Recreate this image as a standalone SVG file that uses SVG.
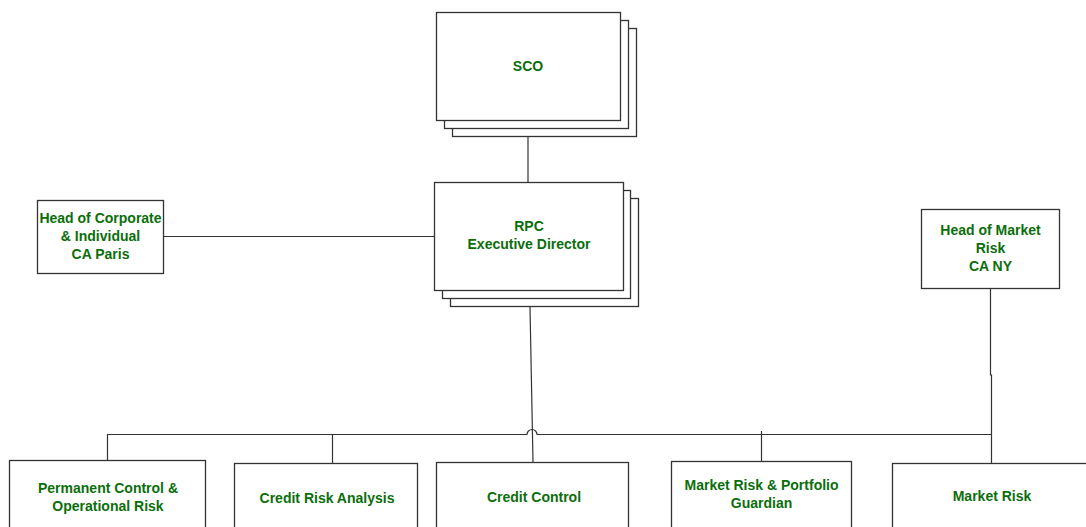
<svg xmlns="http://www.w3.org/2000/svg" width="1086" height="527" viewBox="0 0 1086 527">
<style>
.box{fill:#fff;stroke:#333;stroke-width:1.3}
.ln{fill:none;stroke:#333;stroke-width:1.2}
text{font-family:"Liberation Sans",Arial,sans-serif;font-weight:bold;font-size:14px;fill:#0b6e0b;text-anchor:middle}
</style>
<rect width="1086" height="527" fill="#fff"/>
<g id="connectors">
<line class="ln" x1="528" y1="136" x2="528" y2="182"/>
<line class="ln" x1="164" y1="236.5" x2="434.5" y2="236.5"/>
<line class="ln" x1="530" y1="307" x2="533" y2="462"/>
<path class="ln" d="M107.5 460 V434.5 H527 A5 5 0 0 1 537 434.5 H991.5"/>
<line class="ln" x1="332.5" y1="434.5" x2="332.5" y2="463"/>
<line class="ln" x1="761.5" y1="431" x2="761.5" y2="461"/>
<path class="ln" d="M990.5 289 V375 H991.5 V463"/>
</g>
<g id="sco">
<rect class="box" x="452.5" y="28.5" width="184" height="108"/>
<rect class="box" x="444.5" y="20.5" width="184" height="108"/>
<rect class="box" x="436.5" y="12.5" width="184" height="108"/>
<text x="528" y="71">SCO</text>
</g>
<g id="rpc">
<rect class="box" x="450.5" y="198.5" width="188" height="108"/>
<rect class="box" x="442.5" y="190.5" width="188" height="108"/>
<rect class="box" x="434.5" y="182.5" width="189" height="108"/>
<text x="529" y="231">RPC</text>
<text x="529" y="249">Executive Director</text>
</g>
<g id="head-corporate">
<rect class="box" x="37.5" y="200.5" width="126" height="73"/>
<text x="100.5" y="223">Head of Corporate</text>
<text x="100.5" y="241">&amp; Individual</text>
<text x="100.5" y="259">CA Paris</text>
</g>
<g id="head-market">
<rect class="box" x="921.5" y="209.5" width="138" height="79"/>
<text x="990.5" y="235">Head of Market</text>
<text x="990.5" y="253">Risk</text>
<text x="990.5" y="271">CA NY</text>
</g>
<g id="permanent-control">
<rect class="box" x="9.5" y="460.5" width="196" height="80"/>
<text x="108" y="493">Permanent Control &amp;</text>
<text x="108" y="511">Operational Risk</text>
</g>
<g id="credit-risk">
<rect class="box" x="234.5" y="463.5" width="183" height="80"/>
<text x="327" y="503">Credit Risk Analysis</text>
</g>
<g id="credit-control">
<rect class="box" x="436.5" y="462.5" width="192" height="80"/>
<text x="534" y="502">Credit Control</text>
</g>
<g id="market-portfolio">
<rect class="box" x="671.5" y="461.5" width="180" height="80"/>
<text x="761.5" y="490">Market Risk &amp; Portfolio</text>
<text x="761.5" y="508">Guardian</text>
</g>
<g id="market-risk">
<rect class="box" x="892.5" y="463.5" width="200" height="80"/>
<text x="992" y="501">Market Risk</text>
</g>
</svg>
